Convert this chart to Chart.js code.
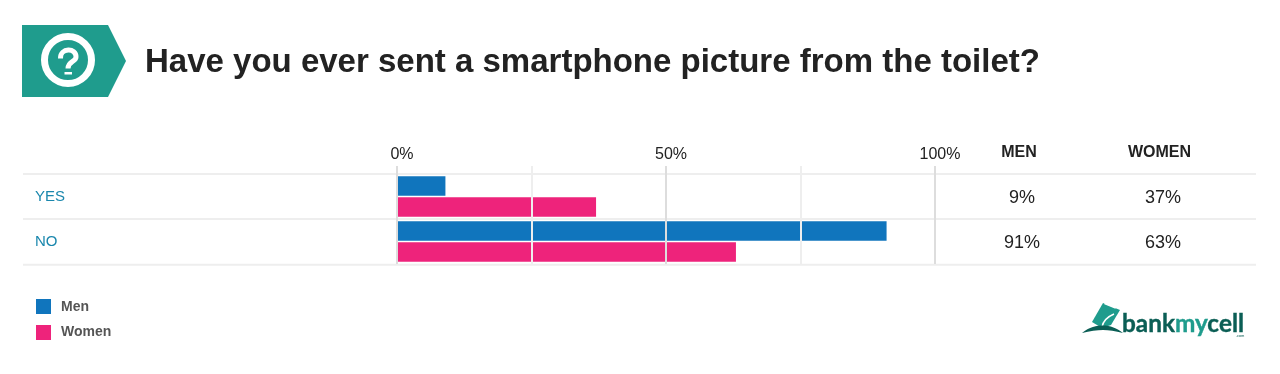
<!DOCTYPE html>
<html>
<head>
<meta charset="utf-8">
<script src="https://cdn.jsdelivr.net/npm/chart.js@4"></script>
<style>
html,body{margin:0;padding:0;background:#fff;width:1280px;height:374px;overflow:hidden}
#wrap{position:relative;width:1280px;height:374px}
canvas{position:absolute;left:0;top:0}
svg{position:absolute;left:0;top:0}
#title{position:absolute;left:145px;top:41px;font:bold 33px "Liberation Sans",Arial,sans-serif;color:#222;white-space:nowrap;line-height:40px}
</style>
</head>
<body>
<div id="wrap">
<canvas id="c" width="1280" height="374"></canvas>
<svg width="1280" height="374" xmlns="http://www.w3.org/2000/svg">
  <polygon points="22,25 108,25 126,61 108,97 22,97" fill="#1f9c8d"/>
  <circle cx="68" cy="60" r="23.5" fill="none" stroke="#fff" stroke-width="7"/>
  <path d="M60.5 58.5 C60 47.5,76.5 47.5,76 57 C76 62,68 61,68 68.5" fill="none" stroke="#fff" stroke-width="5"/>
  <rect x="64.5" y="72" width="7.5" height="2.5" fill="#fff"/>
  <polygon points="1103,303 1120,310 1111,325 1102,328 1092,322" fill="#1f9c8d"/>
  <path d="M1114 314 C1107 317,1103 321,1102 327" fill="none" stroke="#fff" stroke-width="1.5"/>
  <rect x="1104" y="305" width="12" height="1.5" fill="#fff" transform="rotate(22 1110 306)"/>
  <path d="M1082 333 C1089 327,1097 325.5,1103 325.5 C1110 325.5,1117 328,1123 333 C1115 331,1109 330,1103 330 C1097 330,1090 331,1082 333Z" fill="#0b5e55"/>
  <text x="1122" y="332" font-family="Lato,'Open Sans',sans-serif" font-weight="700" font-size="24" textLength="122" lengthAdjust="spacingAndGlyphs" fill="#0b5e55" stroke="#0b5e55" stroke-width="0.4">bank<tspan fill="#1f9c8d" stroke="#1f9c8d">my</tspan>cell</text>
  <text x="1236" y="336.5" font-family="Lato,sans-serif" font-size="4" fill="#0b5e55">.com</text>
</svg>
<div id="title">Have you ever sent a smartphone picture from the toilet?</div>
</div>
<script>
const categories = ["YES", "NO"];
const menValues = [9, 91];
const womenValues = [37, 63];
const tickLabels = { 0: "0%", 50: "50%", 100: "100%" };
const seriesNames = ["Men", "Women"];
const columnHeaders = ["MEN", "WOMEN"];

const BLUE = "#1075bd", PINK = "#ee237b";
const FONT = '"Liberation Sans", Arial, sans-serif';

const extras = {
  id: "extras",
  beforeDatasetsDraw(chart) {
    const ctx = chart.ctx, a = chart.chartArea, y = chart.scales.y;
    const ys = [a.top, (y.getPixelForValue(0) + y.getPixelForValue(1)) / 2, a.bottom + 0.7];
    ctx.save();
    ctx.strokeStyle = "#eeeeee";
    ctx.lineWidth = 2;
    ys.forEach(p => {
      ctx.beginPath();
      ctx.moveTo(23, p);
      ctx.lineTo(1256, p);
      ctx.stroke();
    });
    ctx.restore();
  },
  afterDraw(chart) {
    const ctx = chart.ctx, y = chart.scales.y;
    ctx.save();
    ctx.textBaseline = "middle";
    ctx.textAlign = "center";
    ctx.fillStyle = "#222";
    ctx.font = "bold 16px " + FONT;
    ctx.fillText(columnHeaders[0], 1019, 153);
    ctx.fillText(columnHeaders[1], 1159.5, 153);
    ctx.font = "18px " + FONT;
    categories.forEach((c, i) => {
      const p = y.getPixelForValue(i) + 2;
      ctx.fillText(menValues[i] + "%", 1022, p);
      ctx.fillText(womenValues[i] + "%", 1163, p);
    });
    ctx.textAlign = "left";
    ctx.font = "bold 14px " + FONT;
    seriesNames.forEach((n, i) => {
      const top = 299 + i * 25.5;
      ctx.fillStyle = chart.data.datasets[i].backgroundColor;
      ctx.fillRect(36, Math.round(top), 15, 15);
      ctx.fillStyle = "#555";
      ctx.fillText(n, 61, top + 8);
    });
    ctx.restore();
  }
};

new Chart(document.getElementById("c"), {
  type: "bar",
  data: {
    labels: categories,
    datasets: [
      { label: seriesNames[0], data: menValues, backgroundColor: BLUE, categoryPercentage: 0.93, barPercentage: 0.93 },
      { label: seriesNames[1], data: womenValues, backgroundColor: PINK, categoryPercentage: 0.93, barPercentage: 0.93 }
    ]
  },
  options: {
    indexAxis: "y",
    responsive: false,
    animation: false,
    layout: { padding: { left: 35, right: 345, top: 0, bottom: 110 } },
    plugins: { legend: { display: false }, title: { display: false }, tooltip: { enabled: false } },
    scales: {
      x: {
        position: "top",
        min: 0, max: 100,
        afterFit(s) { s.height = 174; },
        border: { display: false },
        grid: {
          z: 1,
          lineWidth: 2,
          tickLength: 8,
          color: c => (c.tick && c.tick.value % 50 === 0) ? "#dddddd" : "#eeeeee"
        },
        ticks: {
          stepSize: 25,
          maxRotation: 0,
          autoSkip: false,
          padding: 2,
          labelOffset: 5,
          color: "#222",
          font: { family: FONT, size: 16 },
          callback: v => tickLabels[v] || ""
        }
      },
      y: {
        afterFit(s) { s.width = 362; },
        border: { display: false },
        grid: { display: false },
        ticks: {
          crossAlign: "far",
          padding: 0,
          color: "#1a87ad",
          font: { family: FONT, size: 15 }
        }
      }
    }
  },
  plugins: [extras]
});
</script>
</body>
</html>
